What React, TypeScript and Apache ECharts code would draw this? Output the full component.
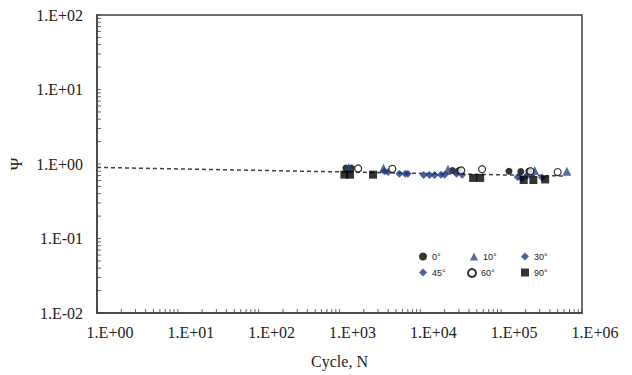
import React, { useEffect, useRef } from "react";
import * as echarts from "echarts";

const deg0: [number, number][] = [[1200, 0.88], [1400, 0.88], [25000, 0.82], [30000, 0.82], [125000, 0.8], [175000, 0.79], [220000, 0.8]];
const deg10: [number, number][] = [[1300, 0.9], [3500, 0.88], [22000, 0.85], [260000, 0.82], [650000, 0.8]];
const deg30: [number, number][] = [[4000, 0.78], [5500, 0.74], [6500, 0.74], [11000, 0.71], [13000, 0.71], [15000, 0.71], [18000, 0.72], [28000, 0.74], [160000, 0.67], [320000, 0.66]];
const deg45: [number, number][] = [[3600, 0.8], [7000, 0.74], [20000, 0.72], [33000, 0.72], [180000, 0.64], [210000, 0.7]];
const deg60: [number, number][] = [[1700, 0.87], [4500, 0.86], [32000, 0.82], [58000, 0.85], [230000, 0.8], [500000, 0.78]];
const deg90: [number, number][] = [[1150, 0.72], [1350, 0.72], [2600, 0.72], [45000, 0.65], [55000, 0.65], [190000, 0.61], [250000, 0.61], [350000, 0.62]];
const trend: [number, number][] = [[1, 0.9], [600000, 0.69]];

const xDecades = [1, 10, 100, 1000, 10000, 100000];
const yDecades = [0.01, 0.1, 1, 10];
const mults = [1, 2, 3, 4, 5, 6, 7, 8, 9];

const fmt = (v: number) => {
  const e = Math.round(Math.log10(v));
  const s = Math.abs(e).toString().padStart(2, "0");
  return "1.E" + (e < 0 ? "-" : "+") + s;
};

const FONT = "Liberation Serif";
const LFONT = "Liberation Sans";
const AX = "#404040";

export default function App() {
  const ref = useRef<HTMLDivElement>(null);
  useEffect(() => {
    const chart = echarts.init(ref.current!, null, { renderer: "svg" });
    const xTicks: number[][] = [];
    xDecades.forEach((d) => mults.forEach((m) => xTicks.push([m * d, 0.01])));
    xTicks.push([1e6, 0.01]);
    const yTicks: number[][] = [];
    yDecades.forEach((d) => mults.forEach((m) => yTicks.push([1, m * d])));
    yTicks.push([1, 100]);
    const legendText = { fontFamily: LFONT, fontSize: 9, color: "#222" };
    const legendPos: [string, number, number][] = [
      ["0°", 419, 252], ["10°", 470, 252], ["30°", 521, 252],
      ["45°", 419, 268], ["60°", 467, 268], ["90°", 521, 268],
    ];
    chart.setOption({
      animation: false,
      textStyle: { fontFamily: FONT },
      grid: { left: 97, right: 50, top: 15, bottom: 62, show: true, borderColor: AX, borderWidth: 1.5, containLabel: false },
      xAxis: {
        type: "log", min: 1, max: 1e6, logBase: 10,
        name: "Cycle, N", nameLocation: "middle", nameGap: 40,
        nameTextStyle: { fontFamily: FONT, fontSize: 16, color: "#222" },
        axisLine: { lineStyle: { color: AX, width: 1.5 } },
        axisTick: { show: false },
        splitLine: { show: false },
        axisLabel: { formatter: fmt, fontFamily: FONT, fontSize: 16, color: "#222", margin: 11, padding: [0, 0, 0, 26] },
      },
      yAxis: {
        type: "log", min: 0.01, max: 100, logBase: 10,
        name: "Ψ", nameLocation: "middle", nameGap: 67, nameRotate: 90,
        nameTextStyle: { fontFamily: FONT, fontSize: 17, color: "#222" },
        axisLine: { show: true, lineStyle: { color: AX, width: 1.5 } },
        axisTick: { show: false },
        splitLine: { show: false },
        axisLabel: { formatter: fmt, fontFamily: FONT, fontSize: 16, color: "#222", margin: 14 },
      },
      legend: legendPos.map(([n, l, t]) => ({
        data: [n], left: l, top: t, itemWidth: 8, itemHeight: 8, itemGap: 0, textStyle: legendText, padding: 0,
      })),
      series: [
        {
          name: "xticks", type: "scatter", data: xTicks, silent: true, z: 1, clip: false,
          symbol: "rect", symbolSize: [1, 4], symbolOffset: [0, -2], itemStyle: { color: AX },
        },
        {
          name: "yticks", type: "scatter", data: yTicks, silent: true, z: 1, clip: false,
          symbol: "rect", symbolSize: [4, 1], symbolOffset: [2, 0], itemStyle: { color: AX },
        },
        { name: "trend", type: "line", data: trend, symbol: "none", lineStyle: { color: AX, width: 1.5, type: [4, 3] }, z: 1 },
        { name: "0°", type: "scatter", data: deg0, symbol: "circle", symbolSize: 7, itemStyle: { color: "#000" }, z: 3 },
        { name: "10°", type: "scatter", data: deg10, symbol: "triangle", symbolSize: 9, itemStyle: { color: "#2F4A85" }, z: 3 },
        { name: "30°", type: "scatter", data: deg30, symbol: "diamond", symbolSize: 8, itemStyle: { color: "#1F3A80" }, z: 3 },
        { name: "45°", type: "scatter", data: deg45, symbol: "diamond", symbolSize: 8, itemStyle: { color: "#1F3A80" }, z: 3 },
        { name: "60°", type: "scatter", data: deg60, symbol: "circle", symbolSize: 7, itemStyle: { color: "#fff", borderColor: "#000", borderWidth: 1.2 }, z: 4 },
        { name: "90°", type: "scatter", data: deg90, symbol: "rect", symbolSize: 8, itemStyle: { color: "#000" }, z: 3 },
      ],
    });
    return () => chart.dispose();
  }, []);
  return <div ref={ref} style={{ width: 632, height: 375, position: "absolute", left: 0, top: 0, background: "#fff" }} />;
}
